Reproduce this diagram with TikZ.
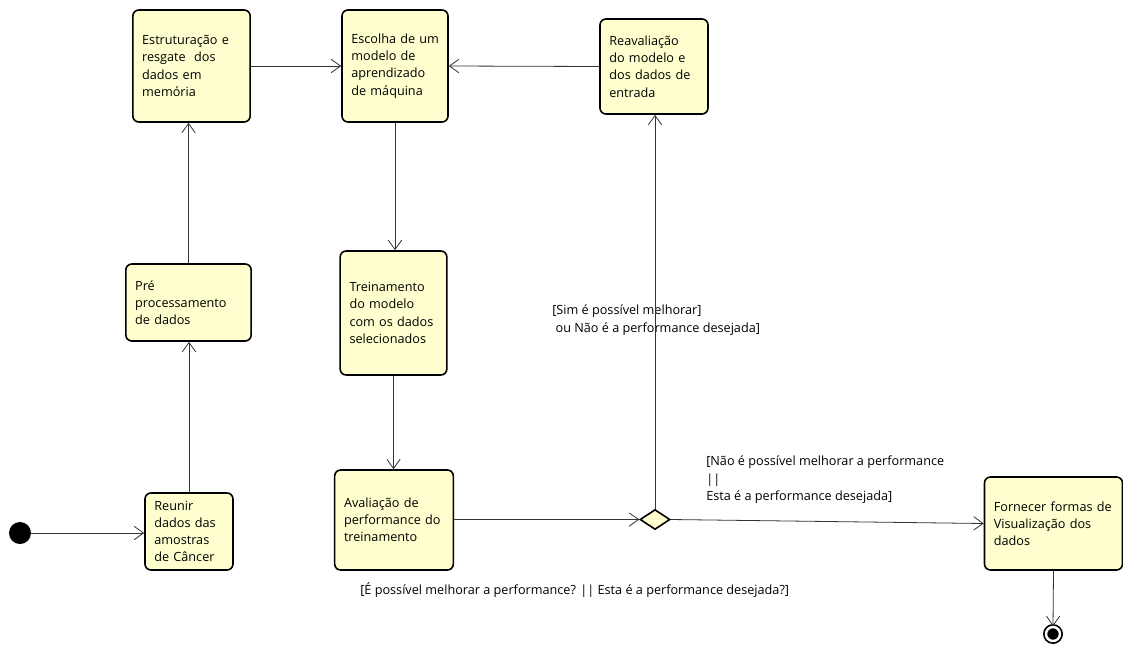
\documentclass[tikz,border=0pt]{standalone}
\usepackage{fontspec}
\setmainfont{Open Sans}
\usetikzlibrary{arrows.meta,shapes.geometric}
\definecolor{actfill}{HTML}{FEFECE}
\begin{document}
\begin{tikzpicture}
  [
    x=0.75pt, y=-0.75pt,
    font=\fontsize{9.5pt}{12.9pt}\selectfont,
    activity/.style={rectangle,rounded corners=4.5pt,draw=black,line width=1.2pt,fill=actfill,
                     align=left,inner xsep=7pt,inner ysep=0pt,text width=#1},
    decision/.style={diamond,draw=black,line width=1.2pt,fill=actfill,inner sep=0pt,
                     minimum width=22.5pt,minimum height=15pt},
    initial/.style={circle,fill=black,minimum size=16.5pt,inner sep=0pt},
    final/.style={circle,fill=black,draw=black,line width=1.3pt,double=white,double distance=1.8pt,
                  minimum size=10.5pt,inner sep=0pt},
    guard/.style={align=left,inner sep=0pt},
    flow/.style={draw=black!80,line width=0.6pt,-{Straight Barb[length=7pt,width=10pt]}},
  ]
  \useasboundingbox (0,0) rectangle (1123,646);

  \node[initial]                                      (inicio)      at (20,533)     {};
  \node[activity=52pt,minimum height=57.75pt]         (reunir)      at (189,531.5)  {Reunir\\dados das\\amostras\\de Câncer};
  \node[activity=80pt,minimum height=57.75pt]         (pre)         at (188.5,302.5) {Pré\\processamento\\de dados};
  \node[activity=74pt,minimum height=84pt]            (estruturacao) at (191.5,66)  {Estruturação~e\\resgate\ \ dos\\dados em\\memória};
  \node[activity=65.5pt,minimum height=84pt]          (escolha)     at (395,66)     {Escolha~de~um\\modelo de\\aprendizado\\de máquina};
  \node[activity=67pt,minimum height=71.25pt]         (reavaliacao) at (654,66.5)   {Reavaliação\\do~modelo~e\\dos~dados~de\\entrada};
  \node[activity=66pt,minimum height=93pt]            (treinamento) at (393.5,313)  {Treinamento\\do modelo\\com~os~dados\\selecionados};
  \node[activity=75pt,minimum height=75pt]            (avaliacao)   at (394,520)    {Avaliação~de\\performance~do\\treinamento};
  \node[decision]                                     (decisao)     at (655,519.5)  {};
  \node[activity=89.5pt,minimum height=69.75pt]       (fornecer)    at (1053.5,523.5) {Fornecer~formas~de\\Visualização~dos\\dados};
  \node[final]                                        (fim)         at (1053,634)   {};

  \node[guard,anchor=north west] (melhorar)   at (552,305) {[Sim é possível melhorar]\\\hspace{2.5pt}ou Não é a performance desejada]};
  \node[guard,anchor=north west] (desejada)   at (706,456) {[Não é possível melhorar a performance\\||\\Esta é a performance desejada]};
  \node[guard,anchor=west]       (pergunta)   at (360,590) {[É possível melhorar a performance? || Esta é a performance desejada?]};

  \draw[flow] (inicio) -- (reunir.west |- inicio);
  \draw[flow] (reunir.north) -- (reunir.north |- pre.south);
  \draw[flow] (pre.north) -- (pre.north |- estruturacao.south);
  \draw[flow] (estruturacao.east) -- (escolha.west);
  \draw[flow] (reavaliacao.west) -- (escolha.east);
  \draw[flow] (escolha.south) -- (escolha.south |- treinamento.north);
  \draw[flow] (treinamento.south) -- (treinamento.south |- avaliacao.north);
  \draw[flow] (avaliacao.east |- decisao) -- (decisao.west);
  \draw[flow] (decisao.north) -- (decisao.north |- reavaliacao.south);
  \draw[flow] (decisao.east) -- (fornecer.west);
  \draw[flow] (fornecer.south) -- (fim.north);
\end{tikzpicture}
\end{document}
